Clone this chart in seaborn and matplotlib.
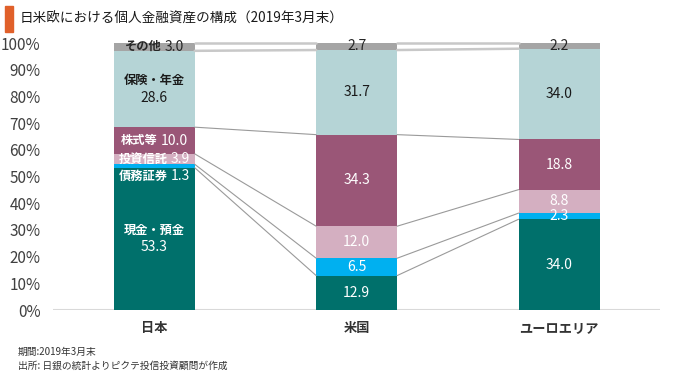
import matplotlib
matplotlib.use("Agg")
import matplotlib.pyplot as plt
from matplotlib.patches import Rectangle
import seaborn as sns
import numpy as np

# 個人金融資産の構成（%）
regions = ['日本', '米国', 'ユーロエリア']
components = ['現金・預金', '債務証券', '投資信託', '株式等', '保険・年金', 'その他']
cash = [53.3, 12.9, 34.0]
bonds = [1.3, 6.5, 2.3]
trusts = [3.9, 12.0, 8.8]
stocks = [10.0, 34.3, 18.8]
insurance = [28.6, 31.7, 34.0]
other = [3.0, 2.7, 2.2]

colors = ['#00706B', '#00B0F0', '#D4AFC1', '#9A5677', '#B5D4D6', '#A5A5A5']
text_colors = ['white', 'white', 'white', 'white', '#1a1a1a', '#262626']

sns.set_theme(style='white')
plt.rcParams['font.family'] = ['Noto Sans CJK JP', 'DejaVu Sans']

values = np.array([cash, bonds, trusts, stocks, insurance, other])
cum = np.cumsum(values, axis=0)

fig = plt.figure(figsize=(6.8, 3.77), dpi=100)
ax = fig.add_axes([0.078, 0.1777, 0.893, 0.708])

# 積み上げ棒：上の累積から順に重ねて描く
for k in range(len(components) - 1, -1, -1):
    sns.barplot(x=regions, y=cum[k], color=colors[k], width=0.4,
                saturation=1, ax=ax, linewidth=0)
for p in ax.patches:
    p.set_clip_on(False)

# 棒の間の連結線
hw = 0.2
for i in range(len(regions) - 1):
    for k in range(len(components)):
        if k >= 4:
            c, lw = '#C8C8C8', 1.8
        else:
            c, lw = '#9A9A9A', 0.8
        ax.plot([i + hw, i + 1 - hw], [cum[k][i], cum[k][i + 1]],
                color=c, lw=lw, zorder=1, clip_on=False)

ax.axhline(0, color='#D9D9D9', lw=1.5, zorder=0)
ax.set_xlim(-0.5, 2.5)
ax.set_ylim(0, 100)
ax.set_yticks(np.arange(0, 101, 10))
ax.set_yticklabels([f'{v}%' for v in range(0, 101, 10)], color='#404040', fontsize=11)
ax.tick_params(axis='y', length=0, pad=9)
ax.tick_params(axis='x', length=0, pad=8)
for lab in ax.get_xticklabels():
    lab.set_fontweight('bold')
    lab.set_fontsize(9.5)
    lab.set_color('#333333')
for s in ax.spines.values():
    s.set_visible(False)
ax.set_xlabel('')
ax.set_ylabel('')

# ラベル
fs = 8.8
nfs = 10
pairs = []
for i in range(len(regions)):
    for k in range(len(components)):
        bottom = cum[k][i] - values[k][i]
        mid = bottom + values[k][i] / 2
        val = f'{values[k][i]:.1f}'
        tc = text_colors[k]
        if i == 0:
            if k in (0, 4):
                ax.text(i, mid + 3.2, components[k], ha='center', va='center',
                        color=tc, fontsize=fs, fontweight='bold')
                ax.text(i, mid - 3.2, val, ha='center', va='center',
                        color=tc, fontsize=nfs)
            else:
                y = mid if k != 1 else bottom - 3.1
                t1 = ax.text(i, y, components[k], ha='left', va='center',
                             color=tc, fontsize=fs, fontweight='bold')
                t2 = ax.text(i, y, val, ha='left', va='center',
                             color=tc, fontsize=nfs)
                pairs.append((i, y, t1, t2))
        else:
            ax.text(i, mid, val, ha='center', va='center', color=tc, fontsize=nfs)

fig.canvas.draw()
r = fig.canvas.get_renderer()
inv = ax.transData.inverted()
for i, y, t1, t2 in pairs:
    w1 = t1.get_window_extent(r).width
    w2 = t2.get_window_extent(r).width
    gap = 3
    cx, cy = ax.transData.transform((i, y))
    x1 = inv.transform((cx - (w1 + gap + w2) / 2, cy))[0]
    x2 = inv.transform((cx - (w1 + gap + w2) / 2 + w1 + gap, cy))[0]
    t1.set_x(x1)
    t2.set_x(x2)

# タイトル
fig.patches.append(Rectangle((5 / 680, 1 - 32 / 377), 7.5 / 680, 26 / 377,
                             transform=fig.transFigure, color='#E0602A'))
fig.text(20 / 680, 1 - 19 / 377, '日米欧における個人金融資産の構成（2019年3月末）',
         fontsize=9.8, color='#1a1a1a', va='center', ha='left')

fig.text(18 / 680, 1 - 352 / 377, '期間:2019年3月末', fontsize=7, color='#333333', va='center')
fig.text(18 / 680, 1 - 366 / 377, '出所: 日銀の統計よりピクテ投信投資顧問が作成',
         fontsize=7, color='#333333', va='center')

fig.savefig('out.png', dpi=100)
